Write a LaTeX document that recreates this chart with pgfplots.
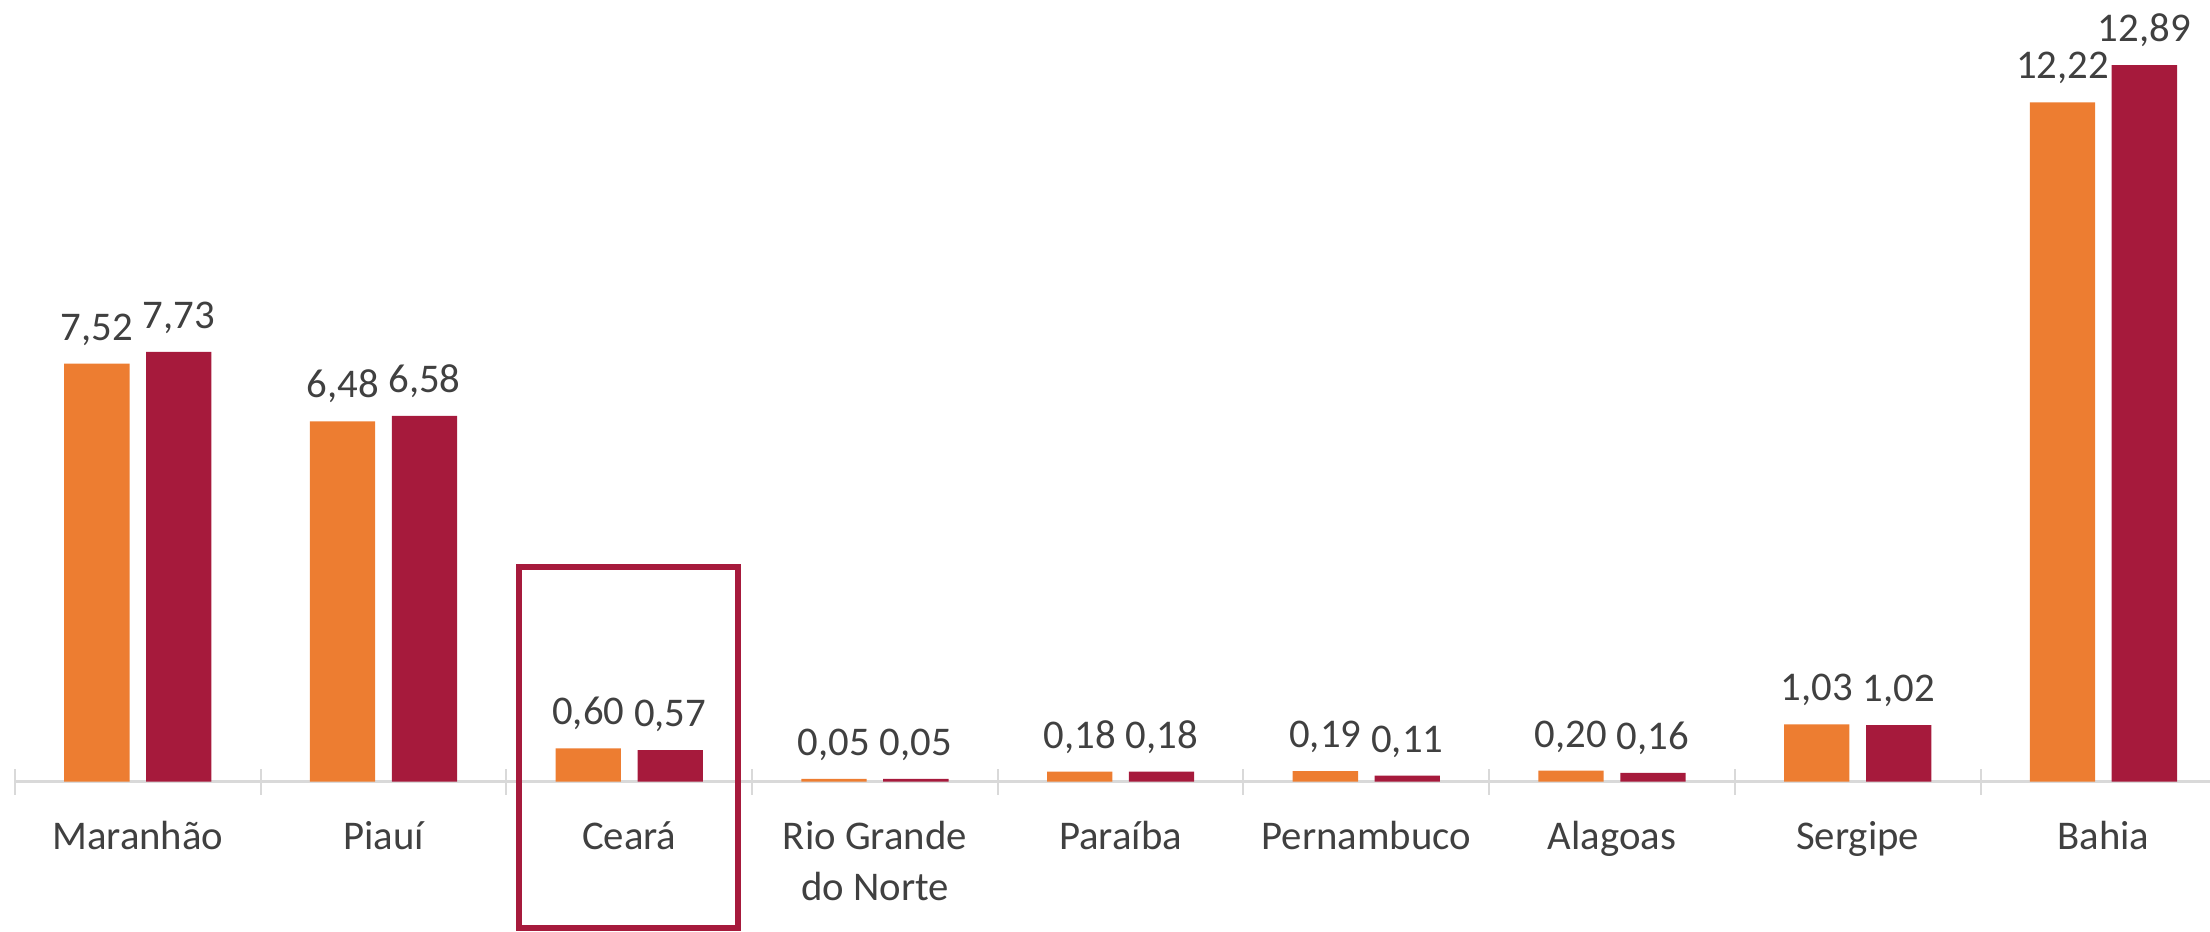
\documentclass[border=0pt]{standalone}
\usepackage{pgfplots}
\pgfplotsset{compat=1.18}
\usepackage{fontspec}
\setmainfont{Carlito}
\definecolor{orangebar}{HTML}{ED7D31}
\definecolor{crimsonbar}{HTML}{A61A3C}
\definecolor{axisgray}{HTML}{D9D9D9}
\definecolor{txt}{HTML}{404040}
\newcommand{\tl}[1]{\rule{0pt}{14pt}#1}
\begin{document}
\begin{tikzpicture}
\begin{axis}[
  scale only axis,
  width=884pt, height=372.4pt,
  xmin=-0.561, xmax=8.434,
  ymin=-2.685, ymax=14.06,
  enlargelimits=false,
  clip=false,
  axis x line*=middle,
  axis y line=none,
  x axis line style={draw=none},
  ybar=6.64pt,
  bar width=26.12pt,
  xtick={0,...,8},
  xticklabels={\tl{Maranhão},\tl{Piauí},\tl{Ceará},{\tl{Rio Grande}\\do Norte},\tl{Paraíba},\tl{Pernambuco},\tl{Alagoas},\tl{Sergipe},\tl{Bahia}},
  major tick length=0pt,
  minor xtick={-0.5,0.5,...,8.5},
  minor tick length=10.4pt,
  tick align=center,
  minor tick style={axisgray, line width=0.8pt},
  xticklabel style={font=\fontsize{16.3}{20.4}\selectfont, text=txt, align=center, anchor=north, inner sep=0pt, yshift=-13.0pt},
  /pgf/number format/.cd, fixed, fixed zerofill, precision=2, use comma, assume math mode=true,
  /pgfplots/.cd,
  nodes near coords,
  nodes near coords style={font=\fontsize{16.3}{20}\selectfont, text=txt, anchor=south, inner sep=0pt, text depth=0pt, yshift=9.2pt},
]
\coordinate (BL) at (rel axis cs:0,0);
\coordinate (TR) at (rel axis cs:1,1);
\draw[axisgray, line width=1.1pt] (axis cs:-0.5,0) -- (axis cs:8.434,0);
\addplot[fill=orangebar, draw=none] coordinates {
  (0,7.52) (1,6.48) (2,0.60) (3,0.05) (4,0.18) (5,0.19) (6,0.20) (7,1.03) (8,12.22)};
\addplot[fill=crimsonbar, draw=none] coordinates {
  (0,7.73) (1,6.58) (2,0.57) (3,0.05) (4,0.18) (5,0.11) (6,0.16) (7,1.02) (8,12.89)};
\draw[crimsonbar, line width=2.2pt] (axis cs:1.551,3.862) rectangle (axis cs:2.442,-2.631);
\end{axis}
\pgfresetboundingbox
\useasboundingbox (BL) rectangle (TR);
\end{tikzpicture}
\end{document}
